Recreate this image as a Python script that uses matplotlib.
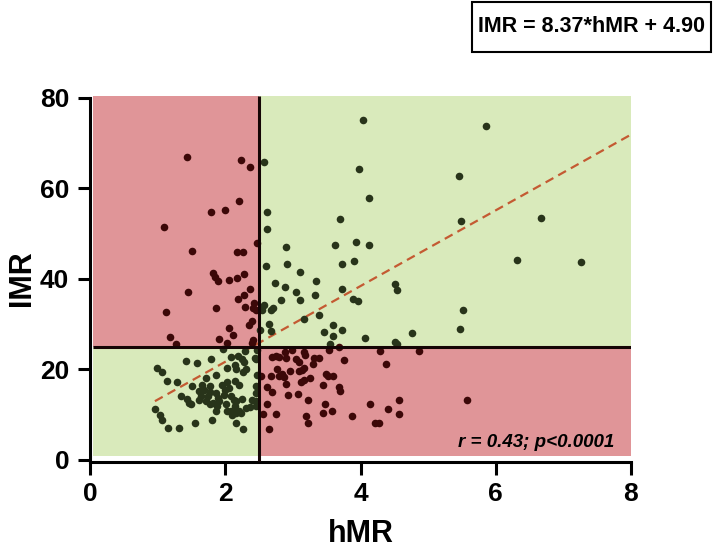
import matplotlib
matplotlib.use("Agg")
import matplotlib.pyplot as plt
from matplotlib.patches import Rectangle
import numpy as np

plt.rcParams['font.family'] = ['Liberation Sans', 'DejaVu Sans']

# ---- data ----
# upper-left quadrant (hMR < 2.5, IMR > 25)
hmr_ul = [1.44, 2.24, 2.36, 2.20, 1.79, 2.00, 1.09, 2.47, 1.51, 2.17, 2.26, 1.82, 1.85, 1.89,
          2.06, 2.18, 2.28, 1.45, 2.37, 2.19, 2.27, 1.13, 1.87, 2.29, 2.42, 2.41, 2.46, 2.39,
          2.35, 2.06, 2.12, 1.19, 1.91, 2.03, 2.41, 2.39, 1.27]
imr_ul = [67.0, 66.2, 64.8, 57.2, 54.7, 55.3, 51.5, 48.0, 46.2, 45.8, 45.8, 41.2, 40.3, 39.5,
          39.7, 40.2, 41.0, 37.1, 37.7, 35.6, 36.3, 32.7, 33.6, 33.7, 34.6, 33.5, 33.1, 30.7,
          29.8, 29.0, 27.6, 27.1, 26.7, 25.9, 26.5, 25.9, 25.6]
# upper-right quadrant
hmr_ur = [4.03, 2.58, 3.98, 4.12, 2.61, 2.62, 3.69, 2.90, 3.62, 3.93, 4.13, 2.60, 2.92, 3.10,
          3.73, 3.91, 3.34, 2.74, 2.89, 3.05, 3.73, 2.82, 3.10, 3.32, 3.89, 3.97, 2.57, 2.55,
          2.71, 2.67, 3.39, 3.17, 2.64, 2.68, 2.51, 3.60, 3.46, 3.59, 3.72, 4.07, 3.55, 4.51,
          4.54, 4.76, 4.51, 4.54, 5.85, 5.46, 5.48, 6.67, 6.31, 7.26, 5.52, 5.47]
imr_ur = [75.1, 65.9, 64.3, 57.8, 54.7, 51.1, 53.3, 47.1, 47.4, 48.1, 47.4, 42.8, 43.2, 41.5,
          43.2, 43.9, 39.5, 39.0, 38.2, 37.0, 37.7, 35.4, 35.2, 36.3, 35.6, 35.0, 34.3, 33.1,
          33.5, 33.0, 31.9, 31.0, 30.1, 28.5, 28.7, 29.8, 28.2, 27.4, 28.6, 26.9, 25.6, 38.8,
          37.6, 28.1, 26.0, 25.6, 73.8, 62.8, 52.8, 53.4, 44.1, 43.6, 33.0, 28.8]
# lower-left quadrant
hmr_ll = [1.96, 2.08, 2.19, 2.25, 2.29, 2.44, 2.47, 1.42, 1.58, 1.79, 0.99, 1.07, 2.02, 2.14,
          2.16, 2.28, 2.31, 2.26, 1.86, 1.72, 1.14, 1.28, 1.51, 1.66, 1.69, 1.78, 1.95, 2.03,
          2.15, 2.20, 1.99, 2.06, 1.61, 1.64, 1.61, 1.78, 1.75, 1.87, 1.90, 1.98, 2.08, 2.13,
          2.16, 2.25, 2.40, 1.34, 1.44, 1.46, 1.50, 1.71, 1.78, 1.82, 1.91, 1.88, 1.86, 2.01,
          2.03, 2.08, 2.15, 2.20, 2.23, 2.31, 2.36, 0.96, 1.03, 1.07, 1.81, 2.10, 2.16, 1.55,
          1.15, 1.31, 2.16, 2.26, 2.47, 2.46, 2.46, 2.46, 2.46, 2.45]
imr_ll = [24.5, 22.8, 23.0, 22.3, 24.0, 22.5, 24.3, 21.8, 21.4, 22.3, 20.3, 19.4, 20.3, 21.0,
          20.1, 21.7, 20.0, 19.4, 18.7, 18.0, 17.5, 17.2, 16.2, 16.6, 15.5, 16.2, 16.6, 17.1,
          17.5, 16.6, 15.5, 15.8, 15.1, 14.0, 13.3, 14.9, 14.0, 14.7, 13.6, 14.4, 14.0, 13.3,
          12.9, 13.4, 13.3, 14.1, 13.4, 12.5, 12.3, 12.9, 12.2, 12.5, 12.9, 11.8, 10.7, 12.2,
          10.8, 10.7, 11.8, 10.7, 10.3, 11.4, 11.6, 11.2, 9.9, 8.8, 8.8, 9.9, 10.3, 8.1,
          7.0, 7.1, 8.2, 6.8, 18.8, 16.2, 14.7, 12.9, 11.8, 22.3]
# lower-right quadrant
hmr_lr = [2.69, 2.75, 2.80, 2.89, 2.90, 2.98, 3.05, 3.09, 3.17, 3.18, 3.31, 3.39, 3.30, 3.54,
          3.76, 4.29, 4.86, 4.37, 2.53, 2.68, 2.77, 2.79, 2.84, 2.87, 2.96, 3.09, 3.14, 2.90,
          2.62, 3.12, 3.17, 3.25, 3.49, 3.52, 3.59, 3.44, 3.68, 3.69, 2.69, 2.93, 3.07, 3.22,
          2.61, 2.56, 2.75, 3.19, 3.23, 3.48, 3.45, 3.58, 3.87, 4.14, 4.41, 4.57, 4.57, 4.22,
          4.28, 2.64, 5.58, 3.68, 3.16]
imr_lr = [22.7, 23.0, 22.8, 23.7, 22.5, 24.2, 22.3, 21.5, 23.9, 23.2, 22.5, 22.5, 21.1, 24.2,
          22.1, 24.1, 24.1, 21.1, 18.4, 18.4, 20.0, 18.4, 18.9, 18.3, 19.5, 19.6, 19.9, 16.7,
          16.0, 17.1, 17.7, 18.1, 18.9, 18.4, 18.6, 16.5, 16.0, 15.2, 14.9, 14.4, 14.6, 13.1,
          12.3, 10.2, 10.2, 9.6, 8.1, 12.2, 10.3, 10.7, 9.6, 12.4, 11.2, 13.1, 10.1, 8.1,
          8.1, 6.8, 13.1, 24.9, 20.3]

hmr_cut = 2.5
imr_cut = 25
slope, intercept = 8.37, 4.90
x_ticks = [0, 2, 4, 6, 8]
y_ticks = [0, 20, 40, 60, 80]

hmr = np.array(hmr_ul + hmr_ur + hmr_ll + hmr_lr)
imr = np.array(imr_ul + imr_ur + imr_ll + imr_lr)

RED_BG = '#E09598'
GREEN_BG = '#D9EABB'
RED_PT = '#3C0808'
GREEN_PT = '#28341A'
LINE_C = '#C45A32'

fig = plt.figure(figsize=(7.14, 5.51), dpi=100)
ax = fig.add_axes([90/714, 1-461.5/551, (631-90)/714, 366/551])
ax.set_xlim(0, 8)
ax.set_ylim(-0.4, 80.5)

x0, x1 = 0.04, 8.0
y0, y1 = 0.8, 80.4
ax.add_patch(Rectangle((x0, imr_cut), hmr_cut - x0, y1 - imr_cut, color=RED_BG, lw=0, zorder=0))
ax.add_patch(Rectangle((hmr_cut, imr_cut), x1 - hmr_cut, y1 - imr_cut, color=GREEN_BG, lw=0, zorder=0))
ax.add_patch(Rectangle((x0, y0), hmr_cut - x0, imr_cut - y0, color=GREEN_BG, lw=0, zorder=0))
ax.add_patch(Rectangle((hmr_cut, y0), x1 - hmr_cut, imr_cut - y0, color=RED_BG, lw=0, zorder=0))

# regression line
xr = np.array([hmr.min(), 8.0])
ax.plot(xr, slope * xr + intercept, ls=(0, (4, 2.5)), color=LINE_C, lw=1.6, zorder=2)

# points coloured by quadrant
red_mask = ((hmr < hmr_cut) & (imr > imr_cut)) | ((hmr > hmr_cut) & (imr < imr_cut))
ax.scatter(hmr[red_mask], imr[red_mask], s=30, color=RED_PT, lw=0, zorder=3)
ax.scatter(hmr[~red_mask], imr[~red_mask], s=30, color=GREEN_PT, lw=0, zorder=3)

# cutoff lines
ax.plot([hmr_cut, hmr_cut], [y0 - 1.2, y1], color='#150505', lw=2.2, zorder=4, solid_capstyle='butt')
ax.plot([x0, x1], [imr_cut, imr_cut], color='#150505', lw=2.2, zorder=4, solid_capstyle='butt')

for s in ['top', 'right']:
    ax.spines[s].set_visible(False)
for s in ['left', 'bottom']:
    ax.spines[s].set_linewidth(2.2)
ax.spines['left'].set_bounds(-0.4, 80)
ax.spines['bottom'].set_bounds(0, 8)

ax.set_xticks(x_ticks)
ax.set_yticks(y_ticks)
ax.tick_params(axis='both', length=9, width=2.2, direction='out', pad=6, labelsize=19)
for lab in ax.get_xticklabels() + ax.get_yticklabels():
    lab.set_fontweight('bold')

ax.set_xlabel('hMR', fontsize=22, fontweight='bold', labelpad=9)
ax.set_ylabel('IMR', fontsize=22, fontweight='bold', labelpad=2)

ax.text(7.75, 3.7, 'r = 0.43; p<0.0001', fontsize=13.5, fontweight='bold', fontstyle='italic',
        ha='right', va='center', zorder=5)

# equation box
fig.patches.append(Rectangle((472/714, 1-52/551), 239/714, 50/551, transform=fig.transFigure,
                             fill=False, lw=1.5, edgecolor='black'))
fig.text(591/714, 1-26/551, 'IMR = 8.37*hMR + 4.90', fontsize=15.5, fontweight='bold',
         ha='center', va='center')

fig.savefig('out.png', dpi=100)
